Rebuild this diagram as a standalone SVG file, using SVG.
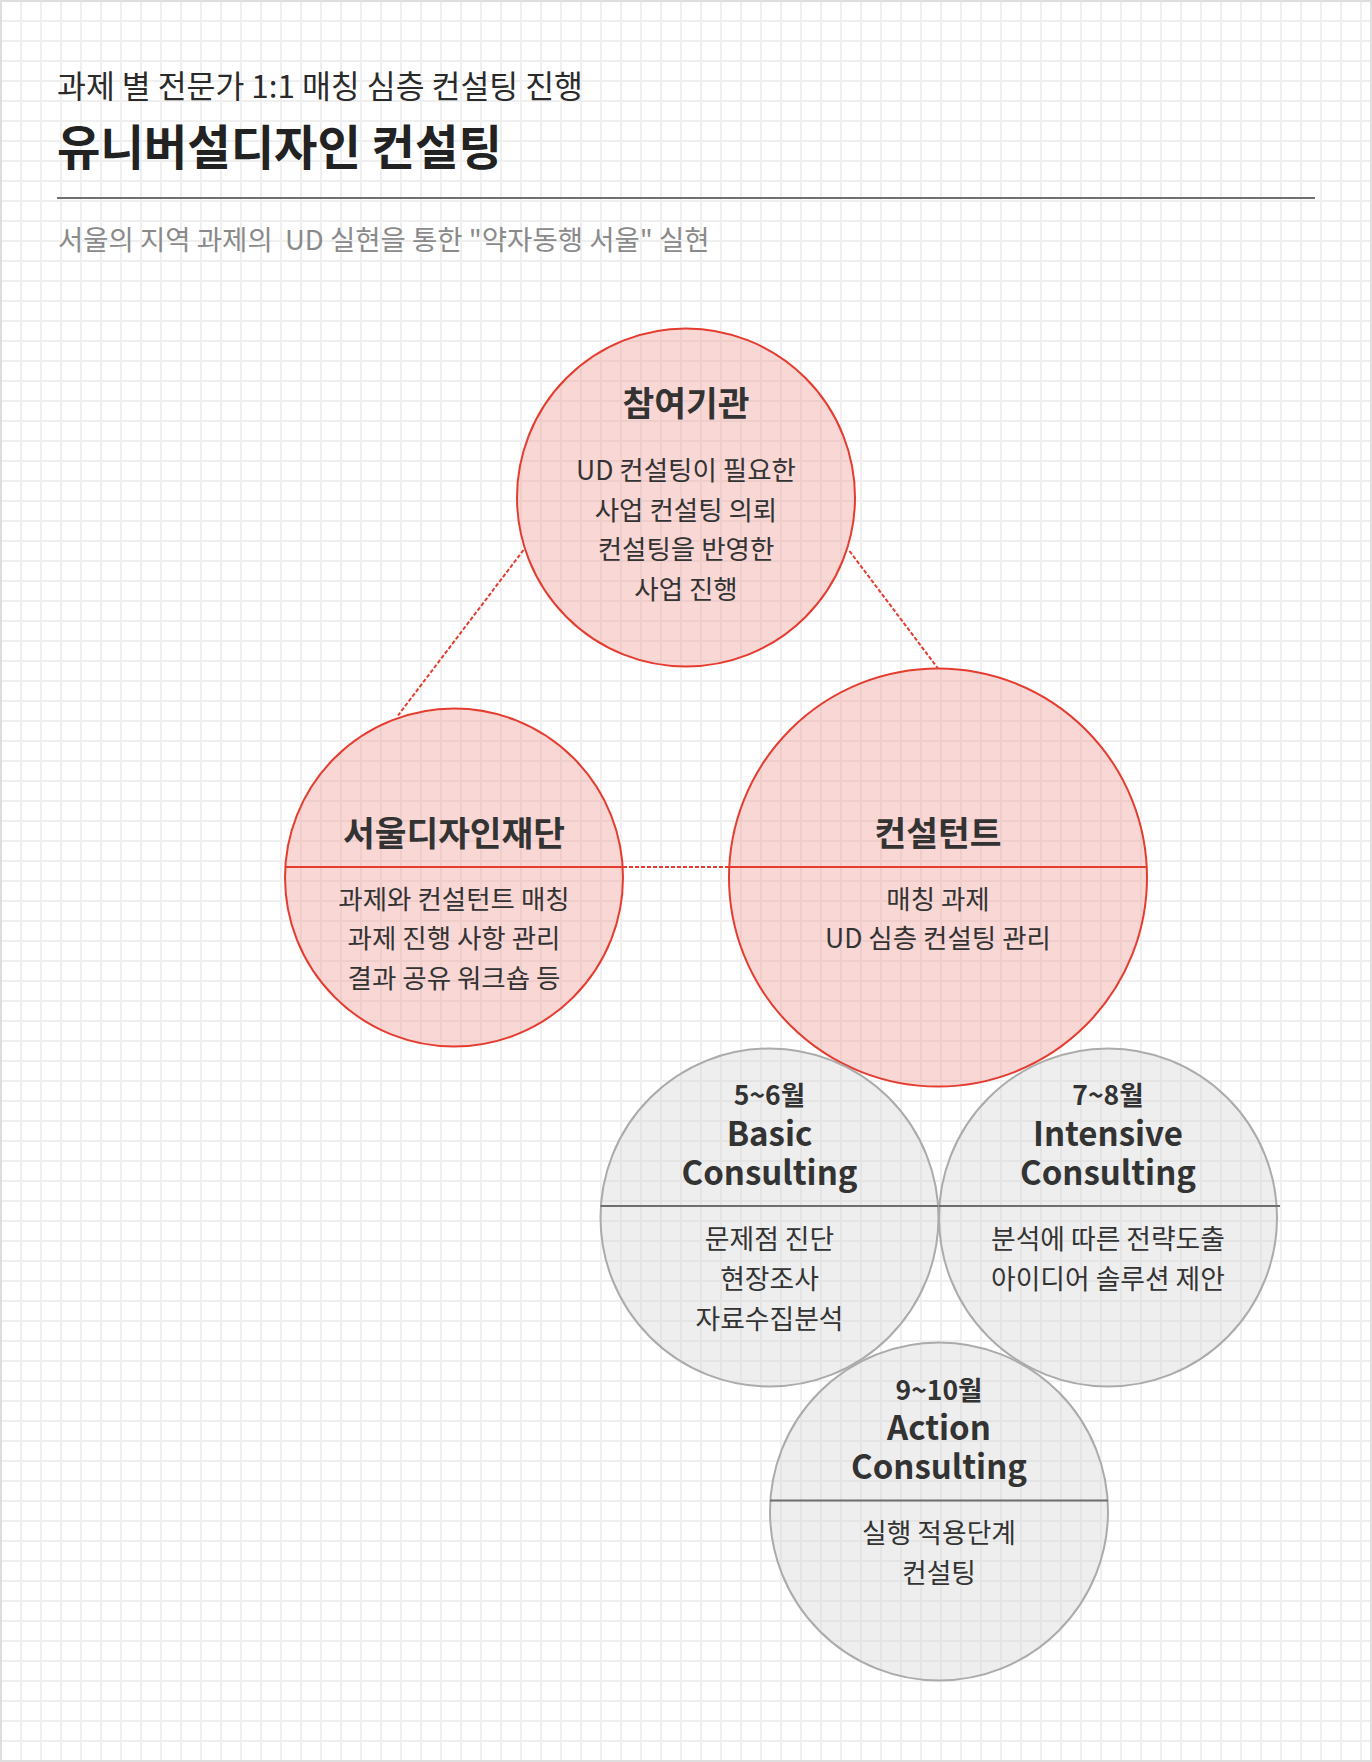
<svg xmlns="http://www.w3.org/2000/svg" width="1372" height="1762" viewBox="0 0 1372 1762">
<defs>
<pattern id="grid" width="20" height="20" patternUnits="userSpaceOnUse">
<rect width="20" height="20" fill="#ffffff"/>
<rect x="0" y="0" width="2" height="20" fill="#efefef"/>
<rect x="0" y="0" width="20" height="2" fill="#efefef"/>
</pattern>
<style>
text { font-family: "Noto Sans CJK KR", "Noto Sans", sans-serif; fill: #333333; text-anchor: middle; }
.red { fill: #ee9b95; fill-opacity: 0.4; stroke: #e43d30; stroke-width: 2; }
.gray { fill: #d4d4d4; fill-opacity: 0.4; stroke: #ababab; stroke-width: 2; }
.rdiv { stroke: #e43d30; stroke-width: 2; }
.gdiv { stroke: #6e6e6e; stroke-width: 2; }
.dot { stroke: #e43d30; stroke-width: 2; stroke-dasharray: 4 2; fill: none; }
.title { font-size: 34.5px; font-weight: 700; }
.body { font-size: 26.5px; font-weight: 400; }
.month { font-size: 26.5px; font-weight: 700; }
.en { font-size: 33px; font-weight: 700; }
.gbody { font-size: 26.8px; font-weight: 400; }
</style>
</defs>
<rect width="1372" height="1762" fill="url(#grid)"/>
<rect x="1" y="1" width="1370" height="1760" fill="none" stroke="#dedede" stroke-width="2"/>

<g id="header">
<text x="57" y="97.5" style="text-anchor:start;font-size:31.4px;font-weight:400;fill:#2a2a2a">과제 별 전문가 1:1 매칭 심층 컨설팅 진행</text>
<text x="57" y="165" style="text-anchor:start;font-size:47.2px;font-weight:700;fill:#222222">유니버설디자인 컨설팅</text>
<line x1="57" y1="198" x2="1315" y2="198" stroke="#707070" stroke-width="2"/>
<text x="58" y="250" style="text-anchor:start;font-size:27.5px;font-weight:400;fill:#8a8a8a;white-space:pre">서울의 지역 과제의  UD 실현을 통한 "약자동행 서울" 실현</text>
</g>

<g id="connectors">
<line class="dot" x1="523.5" y1="550" x2="398" y2="715.5"/>
<line class="dot" x1="849.5" y1="551" x2="938" y2="668.5"/>
<line class="dot" x1="623" y1="867" x2="729" y2="867"/>
</g>

<g id="node-participant">
<circle class="red" cx="686" cy="497.5" r="169"/>
<text class="title" x="686" y="416">참여기관</text>
<text class="body" x="686" y="480">UD 컨설팅이 필요한</text>
<text class="body" x="686" y="519.5">사업 컨설팅 의뢰</text>
<text class="body" x="686" y="559">컨설팅을 반영한</text>
<text class="body" x="686" y="598.5">사업 진행</text>
</g>

<g id="node-foundation">
<circle class="red" cx="454" cy="877.5" r="169"/>
<line class="rdiv" x1="285" y1="867" x2="623" y2="867"/>
<text class="title" x="454" y="846">서울디자인재단</text>
<text class="body" x="454" y="908.5">과제와 컨설턴트 매칭</text>
<text class="body" x="454" y="948">과제 진행 사항 관리</text>
<text class="body" x="454" y="988">결과 공유 워크숍 등</text>
</g>

<g id="node-consultant">
<circle class="red" cx="938" cy="877.5" r="209"/>
<line class="rdiv" x1="729" y1="867" x2="1147" y2="867"/>
<text class="title" x="938" y="846">컨설턴트</text>
<text class="body" x="938" y="908.5">매칭 과제</text>
<text class="body" x="938" y="948">UD 심층 컨설팅 관리</text>
</g>

<g id="node-basic">
<circle class="gray" cx="769.5" cy="1217.5" r="169"/>
<line class="gdiv" x1="600.5" y1="1206" x2="938.5" y2="1206"/>
<text class="month" x="769.5" y="1105">5~6월</text>
<text class="en" x="769.5" y="1146">Basic</text>
<text class="en" x="769.5" y="1185">Consulting</text>
<text class="gbody" x="769.5" y="1249">문제점 진단</text>
<text class="gbody" x="769.5" y="1289">현장조사</text>
<text class="gbody" x="769.5" y="1329">자료수집분석</text>
</g>

<g id="node-intensive">
<circle class="gray" cx="1108" cy="1217.5" r="169"/>
<line class="gdiv" x1="939" y1="1206" x2="1280" y2="1206"/>
<text class="month" x="1108" y="1105">7~8월</text>
<text class="en" x="1108" y="1146">Intensive</text>
<text class="en" x="1108" y="1185">Consulting</text>
<text class="gbody" x="1108" y="1249">분석에 따른 전략도출</text>
<text class="gbody" x="1108" y="1289">아이디어 솔루션 제안</text>
</g>

<g id="node-action">
<circle class="gray" cx="939" cy="1511.5" r="169"/>
<line class="gdiv" x1="770" y1="1500.5" x2="1108" y2="1500.5"/>
<text class="month" x="939" y="1399.5">9~10월</text>
<text class="en" x="939" y="1440">Action</text>
<text class="en" x="939" y="1478.5">Consulting</text>
<text class="gbody" x="939" y="1543">실행 적용단계</text>
<text class="gbody" x="939" y="1583">컨설팅</text>
</g>
</svg>
